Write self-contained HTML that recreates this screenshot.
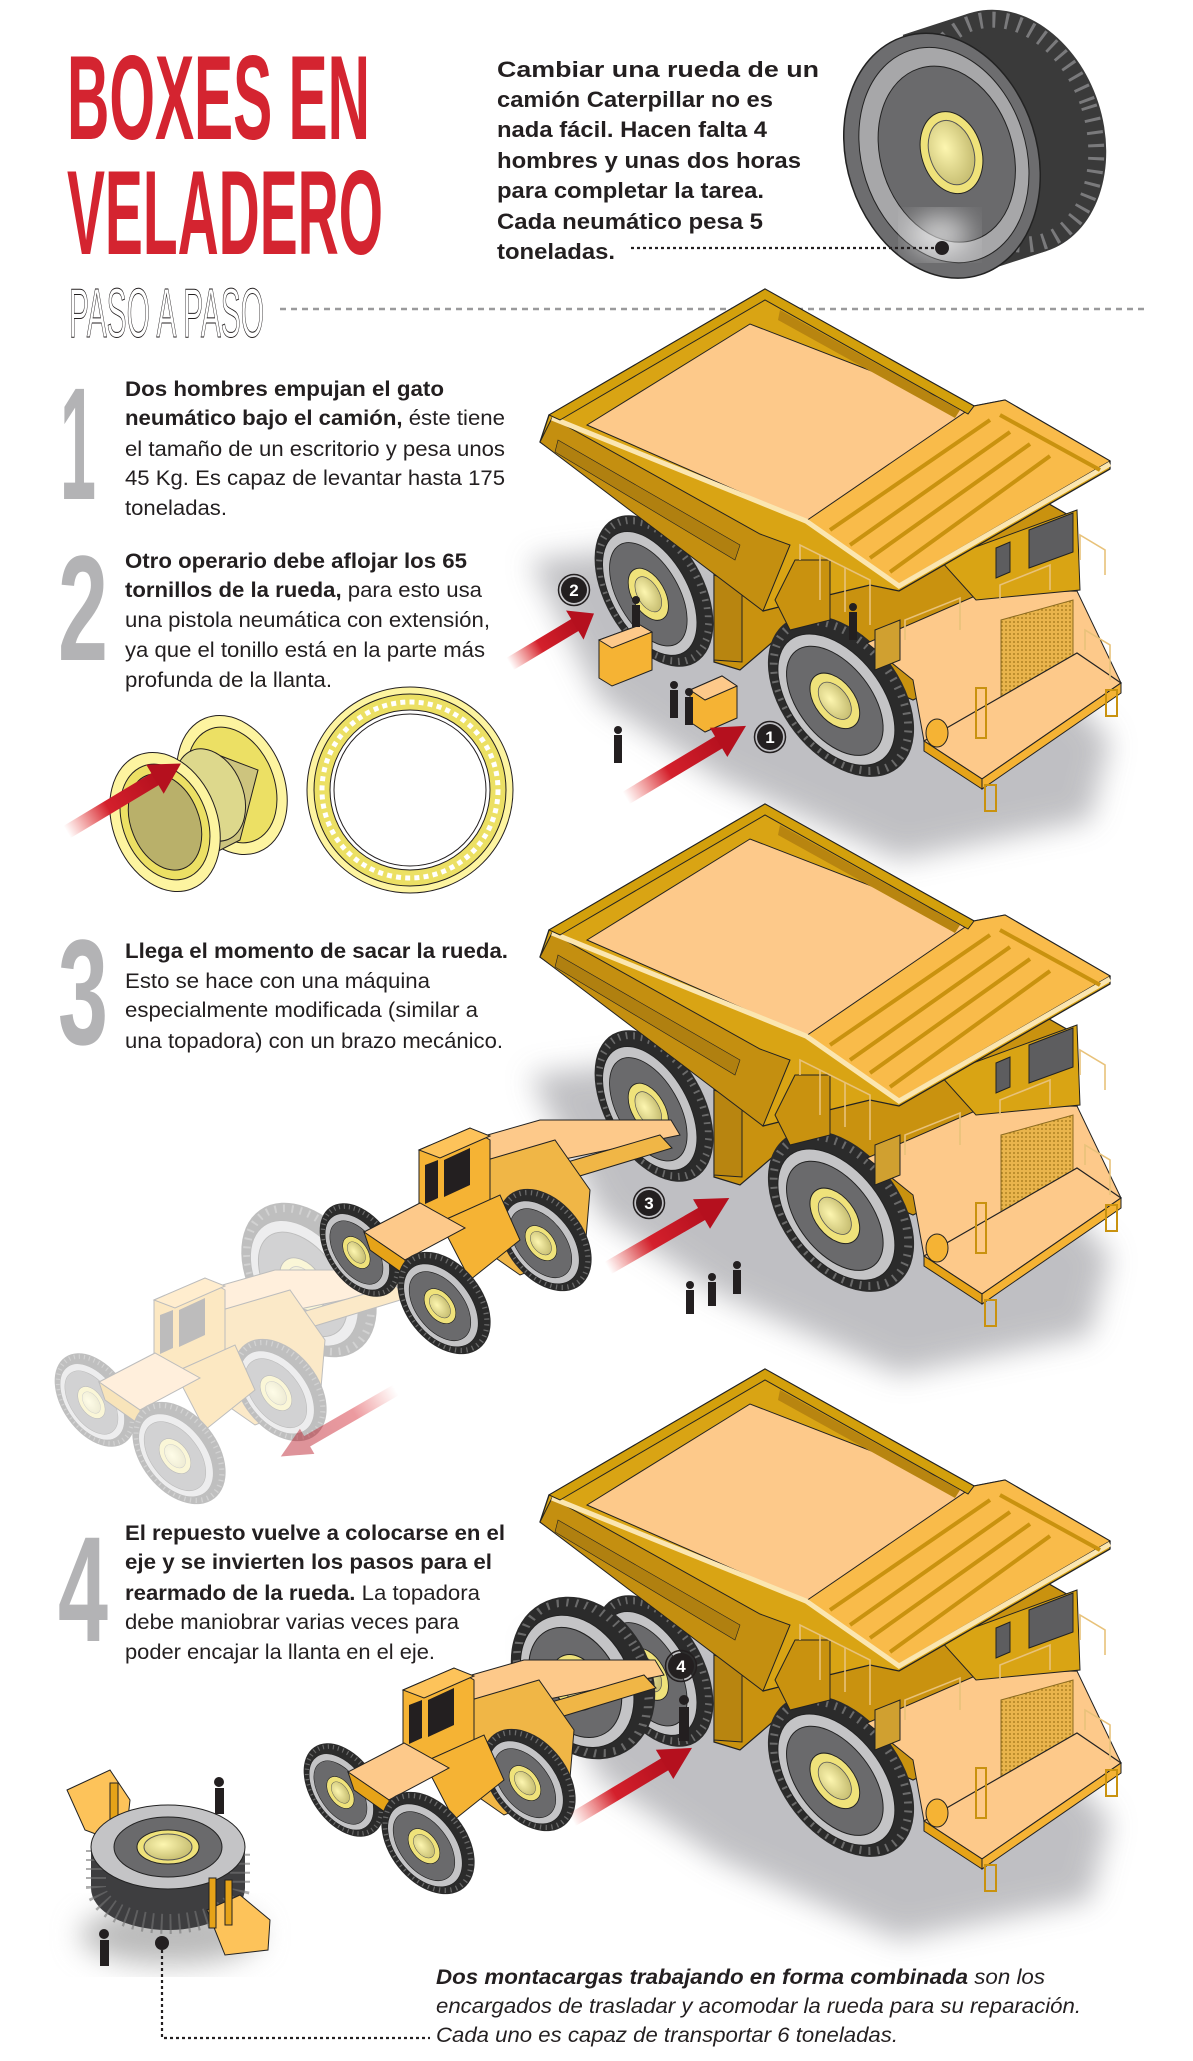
<!DOCTYPE html>
<html><head><meta charset="utf-8"><style>
html,body{margin:0;padding:0;background:#fff}
svg{display:block}
.t{font-family:"Liberation Sans Narrow","Liberation Sans",sans-serif;font-size:21px;fill:#231f20}
.b{font-weight:bold}
.it{font-style:italic}
.num{font-family:"Liberation Sans Narrow","Liberation Sans",sans-serif;font-weight:bold;fill:#b3b3b5}
</style></head><body>
<svg width="1193" height="2061" viewBox="0 0 1193 2061" xmlns="http://www.w3.org/2000/svg">
<defs>
<linearGradient id="ag" x1="0" x2="1" y1="0" y2="0">
<stop offset="0" stop-color="#e8352e" stop-opacity="0"/><stop offset="0.45" stop-color="#d4202c"/><stop offset="1" stop-color="#b5101e"/></linearGradient>
<radialGradient id="hub" cx="0.4" cy="0.4" r="0.6"><stop offset="0" stop-color="#fdf6b0"/><stop offset="1" stop-color="#c9c074"/></radialGradient>
<pattern id="mesh" width="4" height="4" patternUnits="userSpaceOnUse"><rect width="4" height="4" fill="#e9b44c"/><circle cx="2" cy="2" r="0.9" fill="#a07418"/></pattern>
<filter id="blur" x="-20%" y="-20%" width="140%" height="140%"><feGaussianBlur stdDeviation="14"/></filter>
<g id="arrow"><rect x="0" y="-7" width="112" height="14" fill="url(#ag)"/><polygon points="108,-17 140,0 108,17" fill="#b5101e"/></g>
<g id="wheel">
<ellipse cx="0" cy="0" rx="60" ry="90" fill="#2b2b2b"/>
<ellipse cx="0" cy="0" rx="54" ry="84" fill="none" stroke="#6a6a6a" stroke-width="8" stroke-dasharray="2 7"/>
<ellipse cx="-6" cy="0" rx="46" ry="74" fill="#c4c4c6" stroke="#222" stroke-width="1"/>
<ellipse cx="-8" cy="0" rx="37" ry="62" fill="#6a6a6c" stroke="#222" stroke-width="1"/>
<ellipse cx="-8" cy="0" rx="20" ry="31" fill="#efe27a" stroke="#222" stroke-width="1"/>
<ellipse cx="-8" cy="0" rx="13" ry="21" fill="url(#hub)" stroke="#555" stroke-width="0.8"/>
</g>
<g id="truck">
<polygon points="530,560 600,700 720,780 900,860 1090,820 1110,740 1000,620 700,540" fill="#b5b5b9" filter="url(#blur)" opacity="0.85"/>
<polygon points="714,560 714,662 740,670 775,640 913,700 1077,620 1077,520 990,470 800,540" fill="#c9920f" stroke="#222" stroke-width="1.2"/>
<use href="#wheel" transform="translate(654,591) rotate(-30) scale(0.82,0.92)"/>
<polygon points="714,575 742,585 742,662 714,660" fill="#b88510" stroke="#222"/>
<use href="#wheel" transform="translate(841,696) rotate(-38) scale(0.98,1.02)"/>
<polygon points="867,643 982,593 1077,591 1121,683 982,779 924,741 913,680" fill="#fdc98a" stroke="#222" stroke-width="1"/>
<polygon points="1001,620 1073,600 1073,715 1001,740" fill="url(#mesh)" stroke="#8a6a20" stroke-width="1"/>
<polygon points="924,741 1077,653 1121,683 982,779" fill="#fdc98a" stroke="#222" stroke-width="1.2"/>
<polygon points="924,741 982,779 982,789 924,751" fill="#e6a318" stroke="#222"/>
<polygon points="982,779 1121,683 1121,693 982,789" fill="#f5b334" stroke="#222"/>
<rect x="985" y="785" width="11" height="26" fill="none" stroke="#c9920f" stroke-width="2"/>
<rect x="1106" y="690" width="11" height="26" fill="none" stroke="#c9920f" stroke-width="2"/>
<rect x="976" y="688" width="10" height="50" fill="none" stroke="#c9920f" stroke-width="2"/>
<polygon points="940,560 1077,510 1080,590 976,600" fill="#d9a414" stroke="#222"/>
<polygon points="1029,530 1073,513 1073,552 1029,568" fill="#5d5d5f" stroke="#222"/>
<polygon points="996,548 1010,542 1010,572 996,578" fill="#5d5d5f" stroke="#222"/>
<ellipse cx="937" cy="733" rx="11" ry="14" fill="#f5b334" stroke="#222"/>
<polygon points="549,415 765,289 974,406 1005,400 1110,461 1110,469 899,591 870,585 779,607 763,611 745,590 540,442" fill="#d9a414" stroke="#222" stroke-width="1.3"/>
<polygon points="540,442 552,418 760,534 790,545 763,611" fill="#c48f10" stroke="#222" stroke-width="1"/>
<polygon points="558,440 740,545 735,560 555,452" fill="#b08010" stroke="#222" stroke-width="0.6"/>
<polygon points="587,425 750,324 985,415 806,521" fill="#fdc98a" stroke="#222" stroke-width="1"/>
<polygon points="806,521 974,406 1005,400 1110,461 899,584" fill="#f9bb4a" stroke="#222" stroke-width="1"/>
<polyline points="552,418 806,521 899,586 1110,464" fill="none" stroke="#fbe6b0" stroke-width="5"/>
<g stroke="#c9920f" stroke-width="4">
<line x1="830" y1="530" x2="990" y2="420"/><line x1="850" y1="545" x2="1010" y2="432"/>
<line x1="870" y1="558" x2="1030" y2="444"/><line x1="890" y1="572" x2="1050" y2="456"/>
<line x1="1000" y1="415" x2="1100" y2="470"/></g>
<polygon points="765,289 974,406 968,414 765,300 560,420 549,415" fill="#d3a00c" stroke="#222" stroke-width="1"/>
<polygon points="780,310 960,410 955,418 778,320" fill="#b88510"/>
<polygon points="775,600 795,560 830,560 830,620 790,630" fill="#c9920f" stroke="#222"/>
<g stroke="#e8c27a" stroke-width="1.6" fill="none">
<polyline points="800,560 800,545 870,580 870,625"/><line x1="820" y1="555" x2="820" y2="600"/><line x1="845" y1="568" x2="845" y2="612"/>
<polyline points="905,640 905,620 960,598 960,630"/><polyline points="1000,600 1000,585 1050,565 1050,590"/>
<polyline points="1080,560 1080,535 1105,550 1105,575"/><polyline points="1085,650 1085,630 1110,645 1110,680"/></g>
<polygon points="875,630 900,620 900,660 875,670" fill="#d0a030" stroke="#222"/>
</g>
<g id="loader">
<polygon points="470,1140 540,1120 671,1120 680,1135 560,1160 500,1175" fill="#fdc98a" stroke="#222"/>
<polygon points="540,1170 660,1135 672,1148 550,1185" fill="#f0b646" stroke="#222"/>
<use href="#wheel" transform="translate(360,1250) rotate(-35) scale(0.55,0.58)"/>
<polygon points="470,1165 555,1140 590,1190 585,1250 520,1275 470,1240" fill="#f0b646" stroke="#222"/>
<use href="#wheel" transform="translate(545,1240) rotate(-38) scale(0.64,0.64)"/>
<polygon points="419,1150 470,1128 490,1140 490,1200 440,1222 419,1212" fill="#f5b334" stroke="#222"/>
<polygon points="419,1150 470,1128 490,1136 440,1158" fill="#fdc35a" stroke="#222"/>
<polygon points="425,1165 438,1160 438,1198 425,1204" fill="#231f20"/>
<polygon points="444,1160 470,1148 470,1185 444,1197" fill="#231f20"/>
<polygon points="440,1222 500,1195 520,1240 470,1280" fill="#f5b334" stroke="#222"/>
<polygon points="364,1232 420,1203 465,1228 405,1260" fill="#fdc98a" stroke="#222"/>
<polygon points="364,1232 405,1260 405,1275 370,1250" fill="#e6a318" stroke="#222"/>
<use href="#wheel" transform="translate(444,1303) rotate(-38) scale(0.64,0.64)"/>
</g>
</defs>

<!-- Title -->
<text x="67" y="139" font-family="Liberation Sans Narrow,Liberation Sans,sans-serif" font-weight="bold" font-size="120" fill="#d42430" textLength="303" lengthAdjust="spacingAndGlyphs">BOXES EN</text>
<text x="67" y="254" font-family="Liberation Sans Narrow,Liberation Sans,sans-serif" font-weight="bold" font-size="120" fill="#d42430" textLength="316" lengthAdjust="spacingAndGlyphs">VELADERO</text>

<g class="t b" style="font-size:22px">
<text x="497" y="77" textLength="322" lengthAdjust="spacingAndGlyphs">Cambiar una rueda de un</text>
<text x="497" y="107" textLength="276" lengthAdjust="spacingAndGlyphs">camión Caterpillar no es</text>
<text x="497" y="137" textLength="270" lengthAdjust="spacingAndGlyphs">nada fácil. Hacen falta 4</text>
<text x="497" y="168" textLength="304" lengthAdjust="spacingAndGlyphs">hombres y unas dos horas</text>
<text x="497" y="198" textLength="267" lengthAdjust="spacingAndGlyphs">para completar la tarea.</text>
<text x="497" y="229" textLength="266" lengthAdjust="spacingAndGlyphs">Cada neumático pesa 5</text>
<text x="497" y="259" textLength="118" lengthAdjust="spacingAndGlyphs">toneladas.</text>
</g>

<!-- top tire -->
<g transform="rotate(-18 1000 140)">
<ellipse cx="1010" cy="135" rx="95" ry="125" fill="#3a3a3a"/>
<rect x="940" y="10" width="70" height="250" fill="#3a3a3a"/>
<ellipse cx="1010" cy="135" rx="85" ry="115" fill="none" stroke="#7a7a7c" stroke-width="16" stroke-dasharray="3 10"/>
<ellipse cx="940" cy="137" rx="95" ry="125" fill="#6d6d6f" stroke="#222" stroke-width="1.5"/>
<ellipse cx="942" cy="137" rx="82" ry="110" fill="#a7a7a9" stroke="#222"/>
<ellipse cx="945" cy="137" rx="66" ry="90" fill="#6a6a6c" stroke="#222"/>
<ellipse cx="950" cy="137" rx="30" ry="42" fill="#efe27a" stroke="#222"/>
<ellipse cx="950" cy="137" rx="22" ry="33" fill="url(#hub)" stroke="#555"/>
</g>
<ellipse cx="940" cy="235" rx="30" ry="20" fill="#fff" opacity="0.7" filter="url(#blur)"/>
<line x1="631" y1="248" x2="935" y2="248" stroke="#231f20" stroke-width="2.2" stroke-dasharray="3 3"/>
<circle cx="942" cy="248" r="7" fill="#231f20"/>

<text x="69" y="337" font-family="Liberation Sans Narrow,Liberation Sans,sans-serif" font-size="70" fill="none" stroke="#231f20" stroke-width="1" textLength="195" lengthAdjust="spacingAndGlyphs">PASO A PASO</text>
<line x1="280" y1="309" x2="1148" y2="309" stroke="#9a9a9c" stroke-width="2.5" stroke-dasharray="6 5"/>

<use href="#truck"/>
<use href="#truck" transform="translate(0,515)"/>
<use href="#truck" transform="translate(0,1080)"/>

<!-- step1/2 extras -->
<polygon points="599,640 640,625 652,632 652,670 612,686 599,678" fill="#f5b334" stroke="#222"/>
<polygon points="599,640 640,625 652,632 612,648" fill="#fdc98a" stroke="#222"/>
<polygon points="690,690 722,676 737,686 737,718 705,732 690,722" fill="#f5b334" stroke="#222"/>
<polygon points="690,690 722,676 737,686 705,700" fill="#fdc98a" stroke="#222"/>
<g fill="#231f20">
<rect x="632" y="605" width="8" height="22"/><circle cx="636" cy="600" r="4"/>
<rect x="670" y="690" width="8" height="28"/><circle cx="674" cy="685" r="4"/>
<rect x="685" y="697" width="8" height="28"/><circle cx="689" cy="692" r="4"/>
<rect x="614" y="735" width="8" height="28"/><circle cx="618" cy="730" r="4"/>
<rect x="849" y="612" width="8" height="28"/><circle cx="853" cy="607" r="4"/>
</g>
<use href="#arrow" transform="translate(626,798) rotate(-31)"/>
<use href="#arrow" transform="translate(510,664) rotate(-31) scale(0.7,1)"/>
<g font-family="Liberation Sans,sans-serif" font-weight="bold" font-size="17" fill="#fff" text-anchor="middle">
<circle cx="770" cy="737" r="13" fill="#231f20"/><circle cx="770" cy="737" r="15.5" fill="none" stroke="#231f20" stroke-width="1.5"/><text x="770" y="743">1</text>
<circle cx="574" cy="590" r="13" fill="#231f20"/><circle cx="574" cy="590" r="15.5" fill="none" stroke="#231f20" stroke-width="1.5"/><text x="574" y="596">2</text>
<circle cx="649" cy="1203" r="13" fill="#231f20"/><circle cx="649" cy="1203" r="15.5" fill="none" stroke="#231f20" stroke-width="1.5"/><text x="649" y="1209">3</text>
<circle cx="681" cy="1666" r="13" fill="#231f20"/><circle cx="681" cy="1666" r="15.5" fill="none" stroke="#231f20" stroke-width="1.5"/><text x="681" y="1672">4</text>
</g>

<text class="num" x="60" y="499" font-size="160" textLength="36" lengthAdjust="spacingAndGlyphs">1</text>
<g class="t">
<text x="125" y="396" class="b" textLength="319" lengthAdjust="spacingAndGlyphs">Dos hombres empujan el gato</text>
<text x="125" y="425" textLength="380" lengthAdjust="spacingAndGlyphs"><tspan class="b">neumático bajo el camión,</tspan> éste tiene</text>
<text x="125" y="456" textLength="380" lengthAdjust="spacingAndGlyphs">el tamaño de un escritorio y pesa unos</text>
<text x="125" y="485" textLength="380" lengthAdjust="spacingAndGlyphs">45 Kg. Es capaz de levantar hasta 175</text>
<text x="125" y="515" textLength="102" lengthAdjust="spacingAndGlyphs">toneladas.</text>
</g>
<text class="num" x="58" y="660" font-size="150" textLength="50" lengthAdjust="spacingAndGlyphs">2</text>
<g class="t">
<text x="125" y="568" class="b" textLength="342" lengthAdjust="spacingAndGlyphs">Otro operario debe aflojar los 65</text>
<text x="125" y="597" textLength="357" lengthAdjust="spacingAndGlyphs"><tspan class="b">tornillos de la rueda,</tspan> para esto usa</text>
<text x="125" y="627" textLength="365" lengthAdjust="spacingAndGlyphs">una pistola neumática con extensión,</text>
<text x="125" y="657" textLength="360" lengthAdjust="spacingAndGlyphs">ya que el tonillo está en la parte más</text>
<text x="125" y="687" textLength="207" lengthAdjust="spacingAndGlyphs">profunda de la llanta.</text>
</g>

<!-- rims -->
<g stroke="#231f20" stroke-width="1">
<ellipse cx="232" cy="785" rx="52" ry="72" transform="rotate(-22 232 785)" fill="#fdf4a0"/>
<ellipse cx="232" cy="785" rx="42" ry="60" transform="rotate(-22 232 785)" fill="#ece064"/>
<polygon points="150,790 205,750 258,770 240,840 185,868" fill="#cdc47e"/>
<ellipse cx="210" cy="795" rx="33" ry="48" transform="rotate(-22 210 795)" fill="#ddd88c"/>
<ellipse cx="165" cy="822" rx="52" ry="72" transform="rotate(-22 165 822)" fill="#fdf4a0"/>
<ellipse cx="165" cy="822" rx="42" ry="60" transform="rotate(-22 165 822)" fill="#ece064"/>
<ellipse cx="165" cy="822" rx="34" ry="50" transform="rotate(-22 165 822)" fill="#b9b06a"/>
</g>
<use href="#arrow" transform="translate(67,832) rotate(-31) scale(0.95,1)"/>
<circle cx="410" cy="790" r="103" fill="#fdf4a0" stroke="#231f20"/>
<circle cx="410" cy="790" r="96" fill="#ece064" stroke="#231f20"/>
<circle cx="410" cy="790" r="80" fill="#fff" stroke="#231f20"/>
<circle cx="410" cy="790" r="76" fill="#fff" stroke="#231f20"/>
<circle cx="410" cy="790" r="88" fill="none" stroke="#fff" stroke-width="5" stroke-dasharray="5 4.2"/>

<text class="num" x="58" y="1044" font-size="150" textLength="50" lengthAdjust="spacingAndGlyphs">3</text>
<g class="t">
<text x="125" y="958" class="b" textLength="383" lengthAdjust="spacingAndGlyphs">Llega el momento de sacar la rueda.</text>
<text x="125" y="988" textLength="305" lengthAdjust="spacingAndGlyphs">Esto se hace con una máquina</text>
<text x="125" y="1017" textLength="353" lengthAdjust="spacingAndGlyphs">especialmente modificada (similar a</text>
<text x="125" y="1048" textLength="378" lengthAdjust="spacingAndGlyphs">una topadora) con un brazo mecánico.</text>
</g>
<g opacity="0.3" transform="translate(-265,150)">
<use href="#wheel" transform="translate(574,1130) rotate(-35) scale(0.95,0.95)"/>
<use href="#loader"/>
</g>
<use href="#loader"/>
<use href="#arrow" transform="translate(608,1268) rotate(-30)"/>
<use href="#arrow" transform="translate(396,1390) rotate(150) scale(0.95,0.85)" opacity="0.45"/>
<g fill="#231f20">
<rect x="686" y="1290" width="8" height="24"/><circle cx="690" cy="1285" r="4"/>
<rect x="708" y="1282" width="8" height="24"/><circle cx="712" cy="1277" r="4"/>
<rect x="733" y="1270" width="8" height="24"/><circle cx="737" cy="1265" r="4"/>
<rect x="679" y="1707" width="10" height="34"/><circle cx="684" cy="1700" r="5"/>
</g>

<text class="num" x="58" y="1641" font-size="150" textLength="50" lengthAdjust="spacingAndGlyphs">4</text>
<g class="t">
<text x="125" y="1540" class="b" textLength="380" lengthAdjust="spacingAndGlyphs">El repuesto vuelve a colocarse en el</text>
<text x="125" y="1569" class="b" textLength="367" lengthAdjust="spacingAndGlyphs">eje y se invierten los pasos para el</text>
<text x="125" y="1600" textLength="355" lengthAdjust="spacingAndGlyphs"><tspan class="b">rearmado de la rueda.</tspan> La topadora</text>
<text x="125" y="1629" textLength="334" lengthAdjust="spacingAndGlyphs">debe maniobrar varias veces para</text>
<text x="125" y="1659" textLength="310" lengthAdjust="spacingAndGlyphs">poder encajar la llanta en el eje.</text>
</g>
<g transform="translate(-16,540)">
<use href="#wheel" transform="translate(599,1138) rotate(-30) scale(1.12,0.95)"/>
<use href="#loader"/>
</g>
<use href="#arrow" transform="translate(572,1820) rotate(-31)"/>

<!-- lying tire with forklifts -->
<ellipse cx="170" cy="1935" rx="90" ry="30" fill="#bbb" filter="url(#blur)"/>
<polygon points="67,1790 110,1770 130,1800 125,1845 85,1830" fill="#fdc35a" stroke="#222"/>
<rect x="110" y="1783" width="8" height="42" fill="#e6a318" stroke="#222"/>
<path d="M91,1846 L91,1888 A77,42 0 0 0 245,1888 L245,1846 Z" fill="#3e3e40"/>
<path d="M96,1850 L96,1886 A72,38 0 0 0 240,1886 L240,1850" fill="none" stroke="#777" stroke-width="20" stroke-dasharray="2 7" opacity="0.6"/>
<ellipse cx="168" cy="1847" rx="77" ry="42" fill="#c4c4c6" stroke="#222"/>
<ellipse cx="168" cy="1847" rx="54" ry="30" fill="#6a6a6c" stroke="#222"/>
<ellipse cx="168" cy="1847" rx="31" ry="17" fill="#efe27a" stroke="#222"/>
<ellipse cx="168" cy="1847" rx="24" ry="13" fill="url(#hub)" stroke="#555"/>
<polygon points="207,1910 240,1895 270,1920 268,1950 225,1955" fill="#fdc35a" stroke="#222"/>
<rect x="209" y="1878" width="7" height="50" fill="#e6a318" stroke="#222"/>
<rect x="225" y="1880" width="7" height="45" fill="#e6a318" stroke="#222"/>
<g fill="#231f20">
<rect x="215" y="1788" width="9" height="26"/><circle cx="219" cy="1782" r="5"/>
<rect x="100" y="1940" width="9" height="26"/><circle cx="104" cy="1934" r="5"/>
</g>
<circle cx="162" cy="1943" r="7" fill="#231f20"/>
<polyline points="162,1950 162,2038 430,2038" fill="none" stroke="#231f20" stroke-width="2.2" stroke-dasharray="3 3"/>
<g class="t it">
<text x="436" y="1984" textLength="609" lengthAdjust="spacingAndGlyphs"><tspan class="b">Dos montacargas trabajando en forma combinada</tspan> son los</text>
<text x="436" y="2013" textLength="645" lengthAdjust="spacingAndGlyphs">encargados de trasladar y acomodar la rueda para su reparación.</text>
<text x="436" y="2042" textLength="462" lengthAdjust="spacingAndGlyphs">Cada uno es capaz de transportar 6 toneladas.</text>
</g>
</svg>
</body></html>
